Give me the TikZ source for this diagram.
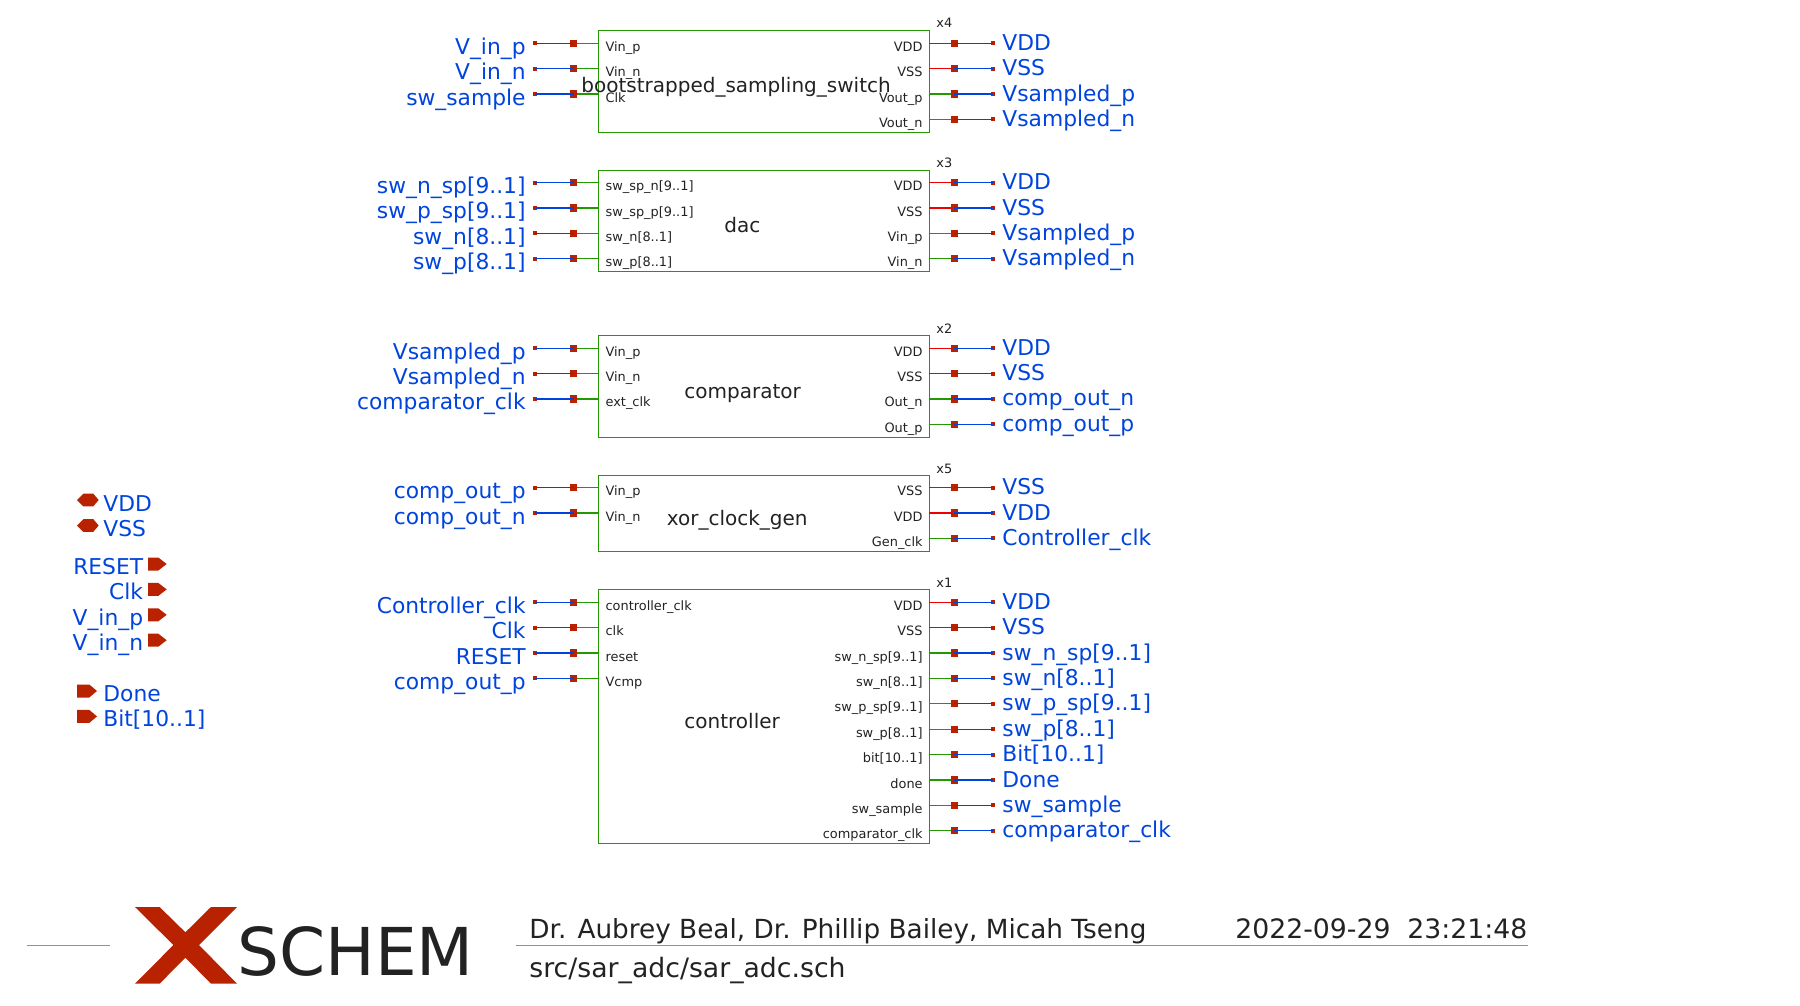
\documentclass[tikz,border=0pt]{standalone}
\usepackage{fontspec}
\setmainfont{DejaVu Sans}
\definecolor{netblue}{HTML}{0044DD}
\definecolor{pinred}{HTML}{B82200}
\definecolor{symgreen}{HTML}{229900}
\definecolor{railred}{HTML}{EE0000}
\definecolor{framecyan}{HTML}{22BBDD}
\definecolor{textgray}{HTML}{222222}
\tikzset{
  cellbox/.style={draw=symgreen,line width=0.6pt,inner sep=0,outer sep=0,anchor=north west,minimum width=165.5pt},
  netend/.style={fill=pinred,inner sep=0,minimum size=2pt},
  pinsq/.style={fill=pinred,inner sep=0,outer sep=0,minimum size=3.6pt},
  netwire/.style={draw=netblue,line width=0.6pt},
  sigwire/.style={draw=symgreen,line width=0.6pt},
  railwire/.style={draw=railred,line width=0.6pt},
  netlab/.style={text=netblue,font=\fontsize{10.9}{13}\selectfont,inner sep=0},
  pinlab/.style={text=textgray,font=\fontsize{6.45}{8}\selectfont,inner sep=0},
  celllab/.style={text=textgray,font=\fontsize{10}{12}\selectfont,inner sep=0,anchor=base west},
  titlelab/.style={text=textgray,font=\fontsize{13.35}{16}\selectfont,inner sep=0,anchor=base west}
}
% left side pins of a cell: box, first pin y, pin/net list
\newcommand{\inpins}[3]{
  \foreach \pin/\net [count=\i] in {#3} {
    \pgfmathsetmacro\py{#2+(\i-1)*25.4}
    \node[pinsq] (#1j\i) at (573.5,\py) {};
    \node[netend] (#1n\i) at (535,\py) {};
    \draw[sigwire] (#1j\i) -- (#1j\i -| #1.west);
    \draw[netwire] (#1n\i.center) -- (#1j\i.center);
    \node[netlab,anchor=base east] (#1l\i) at (526,\py+11) {\net};
    \node[pinlab,anchor=base west] (#1p\i) at (605.2,\py+8) {\pin};
  }
}
% right side pins of a cell: box, first pin y, pin/net/wire style list
\newcommand{\outpins}[3]{
  \foreach \pin/\net/\wire [count=\i] in {#3} {
    \pgfmathsetmacro\py{#2+(\i-1)*25.4}
    \node[pinsq] (#1k\i) at (954.3,\py) {};
    \node[netend] (#1m\i) at (993,\py) {};
    \draw[\wire] (#1k\i) -- (#1k\i -| #1.east);
    \draw[netwire] (#1k\i.center) -- (#1m\i.center);
    \node[netlab,anchor=base west] (#1r\i) at (1002,\py+7) {\net};
    \node[pinlab,anchor=base east] (#1q\i) at (923,\py+8) {\pin};
  }
}
\begin{document}
\begin{tikzpicture}[x=0.5pt,y=-0.5pt]
\useasboundingbox (0,0) rectangle (1800,1006);
% bootstrapped switch
\node[cellbox,minimum height=51pt] (x4) at (598.3,30.5) {};
\node[pinlab,anchor=base west] (x4name) at (936,28) {x4};
\node[celllab] (x4cell) at (581,92.7) {bootstrapped\_sampling\_switch};
\inpins{x4}{43.3}{Vin\_p/V\_in\_p,Vin\_n/V\_in\_n,Clk/sw\_sample}
\outpins{x4}{43.3}{VDD/VDD/railwire,VSS/VSS/railwire,Vout\_p/Vsampled\_p/sigwire,Vout\_n/Vsampled\_n/sigwire}
% dac
\node[cellbox,minimum height=50.5pt] (x3) at (598.3,170.3) {};
\node[pinlab,anchor=base west] (x3name) at (936,168) {x3};
\node[celllab] (x3cell) at (724,232) {dac};
\inpins{x3}{182.6}{sw\_sp\_n[9..1]/sw\_n\_sp[9..1],sw\_sp\_p[9..1]/sw\_p\_sp[9..1],sw\_n[8..1]/sw\_n[8..1],sw\_p[8..1]/sw\_p[8..1]}
\outpins{x3}{182.6}{VDD/VDD/railwire,VSS/VSS/railwire,Vin\_p/Vsampled\_p/sigwire,Vin\_n/Vsampled\_n/sigwire}
% comparator
\node[cellbox,minimum height=51pt] (x2) at (598.3,335.3) {};
\node[pinlab,anchor=base west] (x2name) at (936,333) {x2};
\node[celllab] (x2cell) at (684,398.3) {comparator};
\inpins{x2}{348.1}{Vin\_p/Vsampled\_p,Vin\_n/Vsampled\_n,ext\_clk/comparator\_clk}
\outpins{x2}{348.1}{VDD/VDD/railwire,VSS/VSS/railwire,Out\_n/comp\_out\_n/sigwire,Out\_p/comp\_out\_p/sigwire}
% clock gen
\node[cellbox,minimum height=38pt] (x5) at (598.3,475.3) {};
\node[pinlab,anchor=base west] (x5name) at (936,473) {x5};
\node[celllab] (x5cell) at (666.5,525) {xor\_clock\_gen};
\inpins{x5}{487.6}{Vin\_p/comp\_out\_p,Vin\_n/comp\_out\_n}
\outpins{x5}{487.6}{VSS/VSS/railwire,VDD/VDD/railwire,Gen\_clk/Controller\_clk/sigwire}
% controller
\node[cellbox,minimum height=127pt] (x1) at (598.3,589.3) {};
\node[pinlab,anchor=base west] (x1name) at (936,587) {x1};
\node[celllab] (x1cell) at (684,728.3) {controller};
\inpins{x1}{602.2}{controller\_clk/Controller\_clk,clk/Clk,reset/RESET,Vcmp/comp\_out\_p}
\outpins{x1}{602.2}{VDD/VDD/railwire,VSS/VSS/railwire,sw\_n\_sp[9..1]/sw\_n\_sp[9..1]/sigwire,sw\_n[8..1]/sw\_n[8..1]/sigwire,sw\_p\_sp[9..1]/sw\_p\_sp[9..1]/sigwire,sw\_p[8..1]/sw\_p[8..1]/sigwire,bit[10..1]/Bit[10..1]/sigwire,done/Done/sigwire,sw\_sample/sw\_sample/sigwire,comparator\_clk/comparator\_clk/sigwire}
% top level ports
\foreach \y/\net in {500/VDD,525.5/VSS} {
  \fill[pinred] (77,\y) -- (83.3,\y-6.3) -- (93.3,\y-6.3) -- (98.7,\y) -- (93.3,\y+6.3) -- (83.3,\y+6.3) -- cycle;
  \node[netlab,anchor=base west] at (103,\y+11.3) {\net};
}
\foreach \y/\net in {564/RESET,589.4/Clk,614.8/V\_in\_p,640.2/V\_in\_n} {
  \fill[pinred] (148,\y-6.5) -- (158.3,\y-6.5) -- (166.7,\y) -- (158.3,\y+6.5) -- (148,\y+6.5) -- cycle;
  \node[netlab,anchor=base east] at (143.5,\y+10.5) {\net};
}
\foreach \y/\net in {691/Done,716.4/Bit[10..1]} {
  \fill[pinred] (77,\y-6.5) -- (89.3,\y-6.5) -- (97,\y) -- (89.3,\y+6.5) -- (77,\y+6.5) -- cycle;
  \node[netlab,anchor=base west] at (103,\y+10.5) {\net};
}
% title block
\draw[framecyan,line width=0.5pt] (27,945.3) -- (110,945.3);
\draw[framecyan,line width=0.5pt] (516,945.3) -- (1528,945.3);
\fill[pinred] (135,907) -- (159.6,907) -- (185.4,932.3) -- (211,907) -- (237,907) -- (199,945) -- (237,983.7) -- (211,983.7) -- (185.4,957.7) -- (159.6,983.7) -- (135,983.7) -- (173.4,945) -- cycle;
\node[text=textgray,font=\fontsize{33}{40}\selectfont,inner sep=0,anchor=base west] (logo) at (237,975.7) {SCHEM};
\node[titlelab,font=\fontsize{13.15}{16}\selectfont] (authors) at (529,938) {Dr. Aubrey Beal, Dr. Phillip Bailey, Micah Tseng};
\node[titlelab] (stamp) at (1235,938) {2022-09-29\ \ 23:21:48};
\node[titlelab] (path) at (529,977) {src/sar\_adc/sar\_adc.sch};
\end{tikzpicture}
\end{document}
